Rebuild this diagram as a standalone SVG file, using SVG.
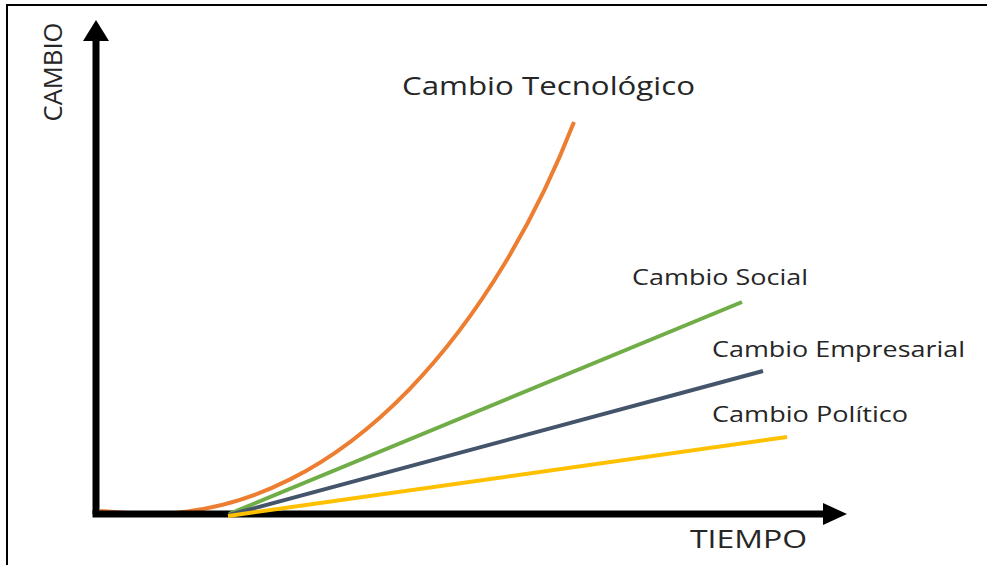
<svg xmlns="http://www.w3.org/2000/svg" width="987" height="565" viewBox="0 0 987 565">
<style>
.lbl{font-family:"Open Sans","Liberation Sans",sans-serif;fill:#262626}
.big{font-size:26px}
.sm{font-size:22px}
.axis{stroke:#000;stroke-width:7;fill:none}
.ln{fill:none;stroke-width:4;stroke-linecap:butt}
</style>
<rect width="987" height="565" fill="#fff"/>
<g id="frame" stroke="#000" stroke-width="2" fill="none">
<polyline points="7,565 7,5 987,5"/>
</g>
<g id="connectors">
<path id="tecnologico" class="ln" stroke="#ED7D31" d="M100,511 Q125,513 150,514 C350,513 499,314.5 574,122"/>
<g id="axes">
<line class="axis" x1="96" y1="514" x2="96" y2="38"/>
<polygon points="96,20 83,41 109,41" fill="#000"/>
<line class="axis" x1="92.5" y1="514" x2="826" y2="514"/>
<polygon points="847,514 823,503 823,525" fill="#000"/>
</g>
<line id="social" class="ln" stroke="#70AD47" x1="229" y1="514" x2="742" y2="302"/>
<line id="empresarial" class="ln" stroke="#44546A" x1="229" y1="515" x2="763" y2="371"/>
<line id="politico" class="ln" stroke="#FFC000" x1="228" y1="516" x2="787" y2="437"/>
</g>
<g id="label-cambio"><text class="lbl big" transform="translate(62,72) rotate(-90)" text-anchor="middle" textLength="99" lengthAdjust="spacingAndGlyphs">CAMBIO</text></g>
<g id="label-tiempo"><text class="lbl big" x="690" y="548" textLength="117" lengthAdjust="spacingAndGlyphs">TIEMPO</text></g>
<g id="node-tecnologico"><text class="lbl big" x="402" y="95" textLength="293" lengthAdjust="spacingAndGlyphs">Cambio Tecnológico</text></g>
<g id="node-social"><text class="lbl sm" x="632" y="285" textLength="176" lengthAdjust="spacingAndGlyphs">Cambio Social</text></g>
<g id="node-empresarial"><text class="lbl sm" x="712" y="357" textLength="253" lengthAdjust="spacingAndGlyphs">Cambio Empresarial</text></g>
<g id="node-politico"><text class="lbl sm" x="712" y="422" textLength="196" lengthAdjust="spacingAndGlyphs">Cambio Político</text></g>
</svg>
